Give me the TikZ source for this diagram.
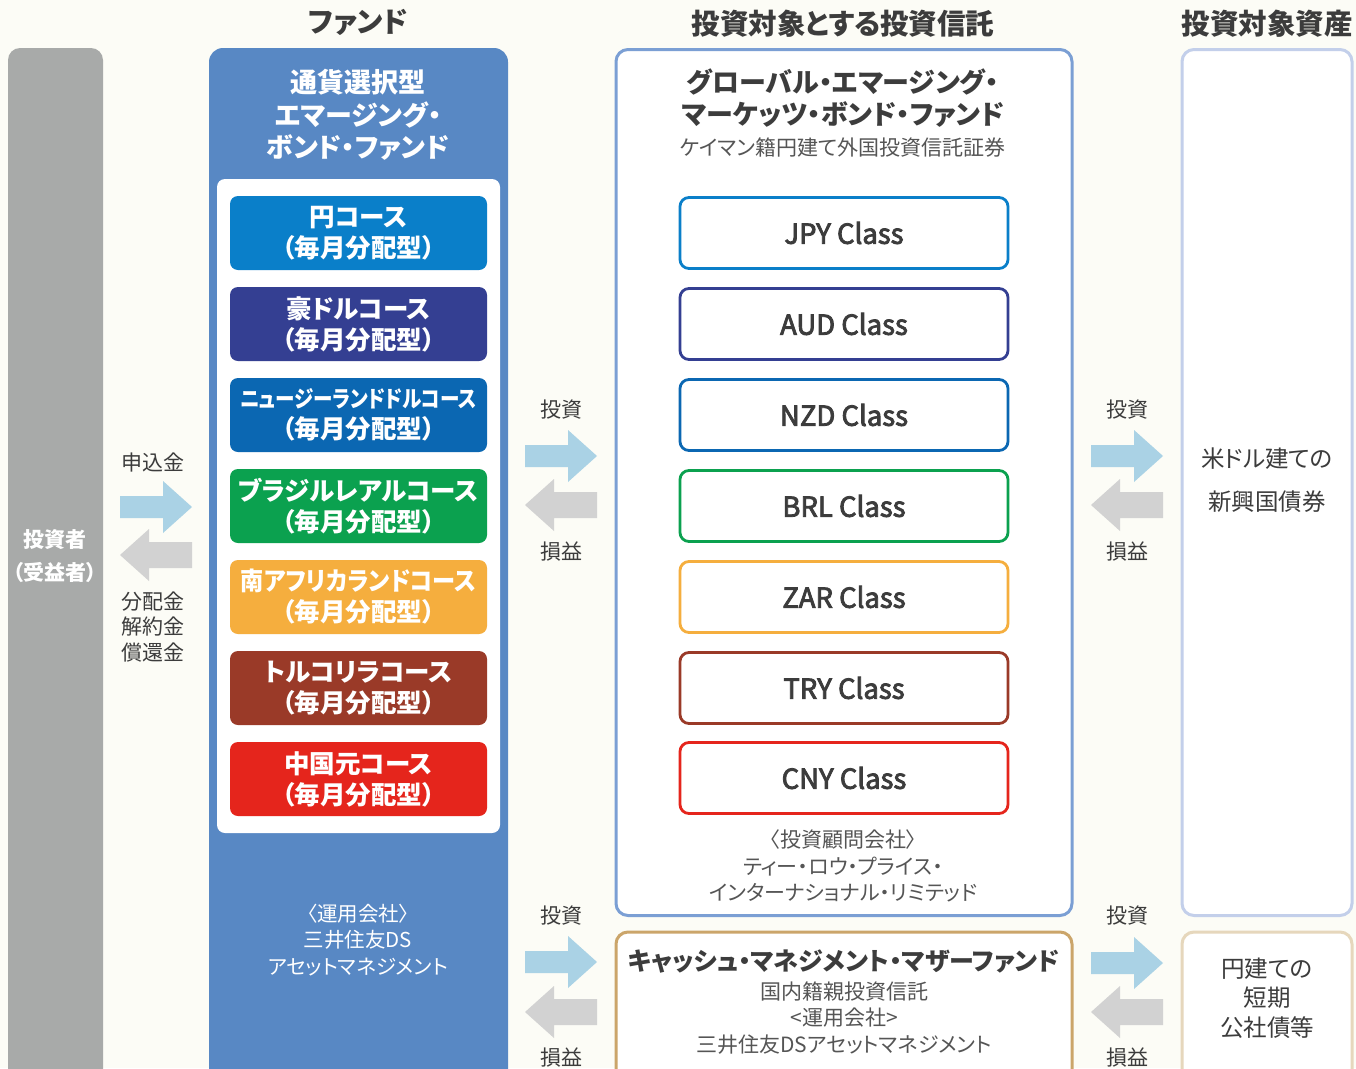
\documentclass[tikz,border=0pt]{standalone}
\usepackage{fontspec}
\usepackage{graphicx}
\setmainfont{Noto Sans CJK JP}[RawFeature=+palt]
\definecolor{bgc}{HTML}{FCFCF6}
\definecolor{invgray}{HTML}{A8AAA9}
\definecolor{fundblue}{HTML}{5888C4}
\definecolor{midborder}{HTML}{7B9FD4}
\definecolor{rborder}{HTML}{C3CFEA}
\definecolor{cashborder}{HTML}{CBA56A}
\definecolor{rlborder}{HTML}{E6D7BC}
\definecolor{arrblue}{HTML}{AAD2E5}
\definecolor{arrgray}{HTML}{D2D2D2}
\definecolor{cJPY}{HTML}{0A7FC9}
\definecolor{cAUD}{HTML}{343F92}
\definecolor{cNZD}{HTML}{0B67B2}
\definecolor{cBRL}{HTML}{0BA14F}
\definecolor{cZAR}{HTML}{F5AE3E}
\definecolor{cTRY}{HTML}{9A3A28}
\definecolor{cCNY}{HTML}{E5251C}
\definecolor{txtdark}{HTML}{3C3C3C}
\definecolor{txtgray}{HTML}{555555}
\tikzset{
  header/.style={text=txtdark,font=\bfseries\fontsize{28.5}{32}\selectfont},
  course/.style={fill=#1,rounded corners=8,minimum width=257,minimum height=74,
    text=white,align=center,font=\bfseries\fontsize{25.5}{31}\selectfont,inner sep=0},
  classbox/.style={draw=#1,line width=2.8,fill=white,rounded corners=9,minimum width=328,
    minimum height=71,text=txtdark,font=\fontsize{27.5}{30}\selectfont\addfontfeature{FakeBold=3},inner sep=0},
  small/.style={text=txtgray,align=center,font=\fontsize{21}{26.5}\selectfont},
  lbl/.style={text=txtdark,align=center,font=\fontsize{21}{25.5}\selectfont},
  rarrow/.pic={\fill[arrblue] (0,-11) -- (43,-11) -- (43,-26) -- (72,0) -- (43,26) -- (43,11) -- (0,11) -- cycle;},
  larrow/.pic={\fill[arrgray] (72,-13) -- (29,-13) -- (29,-26) -- (0,0) -- (29,26) -- (29,13) -- (72,13) -- cycle;},
}
\begin{document}
\begin{tikzpicture}[x=1pt,y=-1pt]
\useasboundingbox (0,0) rectangle (1356,1068);
\clip (0,0) rectangle (1356,1068);
\fill[bgc] (0,0) rectangle (1356,1068);

% headers
\node[header] (h1) at (358,22) {ファンド};
\node[header] (h2) at (843,24) {投資対象とする投資信託};
\node[header] (h3) at (1267,24) {投資対象資産};

% investor
\node[fill=invgray,rounded corners=12,minimum width=95,minimum height=1060,inner sep=0] (inv) at (55.5,578) {};
\node[text=white,align=center,font=\bfseries\fontsize{21}{33}\selectfont] (invt) at (55,556) {投資者\\（受益者）};

% fund box
\node[fill=fundblue,rounded corners=14,minimum width=299,minimum height=1060,inner sep=0] (fund) at (358.5,578) {};
\node[text=white,align=center,font=\bfseries\fontsize{27}{32.5}\selectfont] (fundt) at (358,115) {通貨選択型\\エマージング・\\ボンド・ファンド};
\node[fill=white,rounded corners=8,minimum width=283,minimum height=654,inner sep=0] (inner) at (358.5,506) {};

\node[course=cJPY] (k1) at (358.5,233) {円コース\\（毎月分配型）};
\node[course=cAUD] (k2) at (358.5,324) {豪ドルコース\\（毎月分配型）};
\node[course=cNZD] (k3) at (358.5,415) {\scalebox{0.85}[1]{\fontsize{23}{28}\selectfont ニュージーランドドルコース}\\（毎月分配型）};
\node[course=cBRL] (k4) at (358.5,506) {ブラジルレアルコース\\（毎月分配型）};
\node[course=cZAR] (k5) at (358.5,597) {\scalebox{0.91}[1]{南アフリカランドコース}\\（毎月分配型）};
\node[course=cTRY] (k6) at (358.5,688) {トルコリラコース\\（毎月分配型）};
\node[course=cCNY] (k7) at (358.5,779) {中国元コース\\（毎月分配型）};

\node[text=white,align=center,font=\fontsize{20.5}{26.5}\selectfont] (fundmgr) at (358,940) {〈運用会社〉\\三井住友DS\\アセットマネジメント};

% middle box
\node[draw=midborder,line width=3,fill=white,rounded corners=12,minimum width=456,minimum height=866,inner sep=0] (mid) at (844,482.5) {};
\node[text=txtdark,align=center,font=\bfseries\fontsize{27}{32}\selectfont] (midt) at (843,98) {グローバル・エマージング・\\マーケッツ・ボンド・ファンド};
\node[small] (mids) at (843,147) {ケイマン籍円建て外国投資信託証券};

\node[classbox=cJPY] (c1) at (844,233) {JPY Class};
\node[classbox=cAUD] (c2) at (844,324) {AUD Class};
\node[classbox=cNZD] (c3) at (844,415) {NZD Class};
\node[classbox=cBRL] (c4) at (844,506) {BRL Class};
\node[classbox=cZAR] (c5) at (844,597) {ZAR Class};
\node[classbox=cTRY] (c6) at (844,688) {TRY Class};
\node[classbox=cCNY] (c7) at (844,778) {CNY Class};

\node[small] (adv) at (843,866) {〈投資顧問会社〉\\ティー・ロウ・プライス・\\インターナショナル・リミテッド};

% right box
\node[draw=rborder,line width=3,fill=white,rounded corners=12,minimum width=170,minimum height=866,inner sep=0] (rbox) at (1267,482.5) {};
\node[text=txtdark,align=center,font=\fontsize{23.5}{43}\selectfont] (rboxt) at (1267,480) {米ドル建ての\\新興国債券};

% cash box
\node[draw=cashborder,line width=3,fill=white,rounded corners=12,minimum width=456,minimum height=160,inner sep=0] (cash) at (844,1012) {};
\node[text=txtdark,font=\bfseries\fontsize{25}{28}\selectfont] (casht) at (844,962) {キャッシュ・マネジメント・マザーファンド};
\node[small] (cashs) at (844,1018) {国内籍親投資信託\\<運用会社>\\三井住友DSアセットマネジメント};

% right lower box
\node[draw=rlborder,line width=3,fill=white,rounded corners=12,minimum width=170,minimum height=160,inner sep=0] (rlbox) at (1267,1012) {};
\node[text=txtdark,align=center,font=\fontsize{23.5}{29.5}\selectfont] (rlboxt) at (1267,998) {円建ての\\短期\\公社債等};

% arrows and labels
\node[lbl] (l1) at (153,462) {申込金};
\pic at (120,507) {rarrow};
\pic at (120,555) {larrow};
\node[lbl] (l2) at (153,627) {分配金\\解約金\\償還金};

\node[lbl] (m1) at (561,410) {投資};
\pic at (525,456) {rarrow};
\pic at (525,505) {larrow};
\node[lbl] (m2) at (561,552) {損益};

\node[lbl] (r1) at (1127,410) {投資};
\pic at (1091,456) {rarrow};
\pic at (1091,505) {larrow};
\node[lbl] (r2) at (1127,552) {損益};

\node[lbl] (m3) at (561,916) {投資};
\pic at (525,962) {rarrow};
\pic at (525,1012) {larrow};
\node[lbl] (m4) at (561,1057) {損益};

\node[lbl] (r3) at (1127,916) {投資};
\pic at (1091,963) {rarrow};
\pic at (1091,1012) {larrow};
\node[lbl] (r4) at (1127,1057) {損益};
\end{tikzpicture}
\end{document}
